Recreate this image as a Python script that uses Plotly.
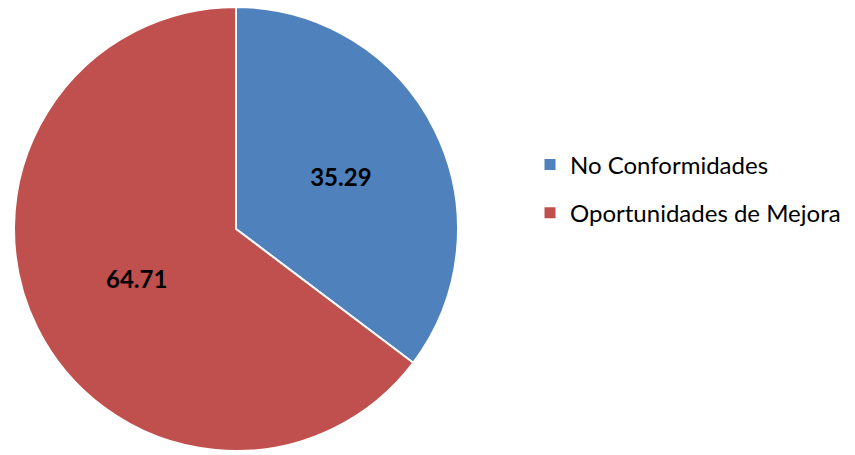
import plotly.graph_objects as go

categories = ["No Conformidades", "Oportunidades de Mejora"]
values = [35.29, 64.71]
colors = ["#4F81BD", "#C0504D"]

W, H = 855, 455
fig = go.Figure()
fig.add_trace(go.Pie(
    labels=categories, values=values, sort=False, direction="clockwise", rotation=0,
    marker=dict(colors=colors, line=dict(color="white", width=2)),
    texttemplate="<b>%{value:.2f}</b>", textposition="inside", insidetextorientation="horizontal",
    textfont=dict(family="Lato", size=24, color="black"),
    domain=dict(x=[14 / W, 458 / W], y=[4 / H, 448 / H]),
    showlegend=False, hoverinfo="label+value",
))
for i, (c, col) in enumerate(zip(categories, colors)):
    fig.add_trace(go.Scatter(
        x=[None], y=[None], mode="markers", name=c, legendgroup=c,
        marker=dict(symbol="square", size=11, color=col), showlegend=True,
    ))

fig.update_layout(
    width=W, height=H, margin=dict(l=0, r=0, t=0, b=0),
    paper_bgcolor="white", plot_bgcolor="white",
    xaxis=dict(visible=False), yaxis=dict(visible=False),
    legend=dict(x=530 / W, y=1 - 189 / H, xanchor="left", yanchor="middle",
                font=dict(family="Lato", size=24, color="black"),
                tracegroupgap=14, itemwidth=30),
)
fig.write_html("out.html")
